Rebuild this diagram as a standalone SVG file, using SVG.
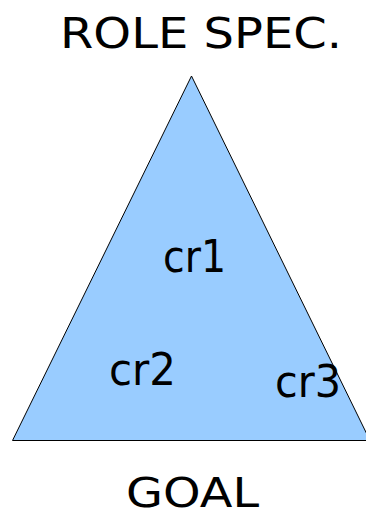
<svg xmlns="http://www.w3.org/2000/svg" width="366" height="515" viewBox="0 0 366 515">
<style>
text{font-family:"DejaVu Sans","Liberation Sans",sans-serif;fill:#000}
.big{font-size:42px}
.lbl{font-size:45px}
</style>
<rect width="366" height="515" fill="#fff"/>
<g id="triangle">
<polygon points="191.5,76 12.5,440.5 370,440.5" fill="#99ccff" stroke="#000" stroke-width="1"/>
</g>
<g id="title"><text class="big" x="60" y="48" textLength="282" lengthAdjust="spacingAndGlyphs">ROLE SPEC.</text></g>
<g id="goal"><text class="big" x="126" y="507" style="font-size:40px" textLength="133" lengthAdjust="spacingAndGlyphs">GOAL</text></g>
<g id="cr1"><text class="lbl" x="163" y="272" textLength="63" lengthAdjust="spacingAndGlyphs">cr1</text></g>
<g id="cr2"><text class="lbl" x="109" y="385" textLength="67" lengthAdjust="spacingAndGlyphs">cr2</text></g>
<g id="cr3"><text class="lbl" x="275" y="397" textLength="66" lengthAdjust="spacingAndGlyphs">cr3</text></g>
<g id="connectors"/>
</svg>
